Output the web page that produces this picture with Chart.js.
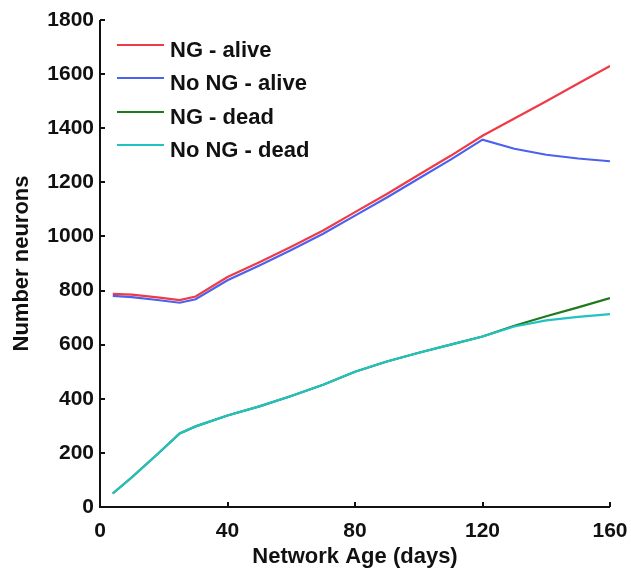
<!DOCTYPE html>
<html>
<head>
<meta charset="utf-8">
<script src="https://cdn.jsdelivr.net/npm/chart.js@4/dist/chart.umd.min.js"></script>
<style>
  html, body { margin: 0; padding: 0; background: #fff; }
  #wrap { width: 631px; height: 572px; }
</style>
</head>
<body>
<div id="wrap"><canvas id="c" width="631" height="572"></canvas></div>
<script>
// Network age in days
const ageDays = [4, 10, 18, 25, 30, 40, 50, 60, 70, 80, 90, 100, 110, 120, 130, 140, 150, 160];

// Living neuron counts
const ngAlive   = [788, 785, 775, 765, 778, 850, 905, 962, 1022, 1090, 1157, 1228, 1298, 1372, 1436, 1500, 1565, 1630];
const noNgAlive = [780, 776, 765, 755, 768, 838, 893, 950, 1010, 1077, 1144, 1214, 1284, 1358, 1324, 1302, 1288, 1278];

// Dead neuron counts
const ngDead    = [50, 110, 195, 272, 298, 338, 372, 410, 452, 500, 538, 570, 600, 630, 670, 705, 738, 772];
const noNgDead  = [50, 110, 195, 272, 298, 338, 372, 410, 452, 500, 538, 570, 600, 630, 667, 690, 703, 713];

const seriesNames  = ['NG - alive', 'No NG - alive', 'NG - dead', 'No NG - dead'];
const seriesColors = ['#ee3b47', '#4a62ee', '#1f7a1f', '#22c2c2'];

const xTicks = [0, 40, 80, 120, 160];
const yTicks = [0, 200, 400, 600, 800, 1000, 1200, 1400, 1600, 1800];

const FONT = 'Liberation Sans, Arial, Helvetica, sans-serif';

function toPoints(ys) { return ys.map((y, i) => ({ x: ageDays[i], y })); }

const seriesData = [ngAlive, noNgAlive, ngDead, noNgDead];
const drawOrder = [0, 1, 1, 0];

// Axis lines, inward ticks and the in-plot legend
const axesAndLegend = {
  id: 'axesAndLegend',
  afterDatasetsDraw(chart) {
    const { ctx, chartArea: a, scales: { x, y } } = chart;
    ctx.save();
    ctx.strokeStyle = '#111';
    ctx.lineWidth = 2;
    ctx.beginPath();
    ctx.moveTo(a.left, a.top);
    ctx.lineTo(a.left, a.bottom);
    ctx.lineTo(a.right, a.bottom);
    ctx.stroke();
    ctx.beginPath();
    yTicks.forEach(v => {
      const py = Math.round(y.getPixelForValue(v));
      ctx.moveTo(a.left, py); ctx.lineTo(a.left + 5, py);
    });
    xTicks.forEach(v => {
      const px = Math.round(x.getPixelForValue(v));
      ctx.moveTo(px, a.bottom); ctx.lineTo(px, a.bottom - 5);
    });
    ctx.stroke();

    // legend
    const lx0 = 117, lx1 = 164, tx = 170;
    const rows = [45, 78, 112, 145];
    ctx.font = 'bold 22px ' + FONT;
    ctx.textBaseline = 'alphabetic';
    ctx.textAlign = 'left';
    seriesNames.forEach((name, i) => {
      ctx.strokeStyle = seriesColors[i];
      ctx.lineWidth = 2;
      ctx.beginPath();
      ctx.moveTo(lx0, rows[i]); ctx.lineTo(lx1, rows[i]);
      ctx.stroke();
      ctx.fillStyle = '#111';
      ctx.fillText(name, tx, rows[i] + 12);
    });
    ctx.restore();
  }
};

new Chart(document.getElementById('c'), {
  type: 'line',
  data: {
    datasets: seriesData.map((d, i) => ({
      label: seriesNames[i],
      data: toPoints(d),
      borderColor: seriesColors[i],
      backgroundColor: seriesColors[i],
      borderWidth: 2.2,
      pointRadius: 0,
      tension: 0,
      fill: false,
      order: drawOrder[i]
    }))
  },
  options: {
    responsive: false,
    animation: false,
    layout: { padding: { left: 0, right: 21, top: 20, bottom: 0 } },
    plugins: { legend: { display: false }, tooltip: { enabled: false } },
    scales: {
      x: {
        type: 'linear',
        min: 0, max: 160,
        afterBuildTicks(s) { s.ticks = xTicks.map(v => ({ value: v })); },
        afterFit(s) { s.height = 65; s.paddingLeft = 0; s.paddingRight = 0; },
        grid: { display: false, drawTicks: false },
        border: { display: false },
        ticks: { color: '#111', font: { family: FONT, size: 21, weight: 'bold' }, padding: 12, maxRotation: 0,
                 callback: v => String(v) },
        title: { display: true, text: 'Network Age (days)', color: '#111',
                 font: { family: FONT, size: 22, weight: 'bold' }, padding: { top: 0, bottom: 2 } }
      },
      y: {
        type: 'linear',
        min: 0, max: 1800,
        afterBuildTicks(s) { s.ticks = yTicks.map(v => ({ value: v })); },
        afterFit(s) { s.width = 100; s.paddingTop = 0; s.paddingBottom = 0; },
        grid: { display: false, drawTicks: false },
        border: { display: false },
        ticks: { color: '#111', font: { family: FONT, size: 21, weight: 'bold' }, padding: 6,
                 callback: v => String(v) },
        title: { display: true, text: 'Number neurons', color: '#111',
                 font: { family: FONT, size: 22, weight: 'bold' }, padding: { top: 9, bottom: 0 } }
      }
    }
  },
  plugins: [axesAndLegend]
});
</script>
</body>
</html>
